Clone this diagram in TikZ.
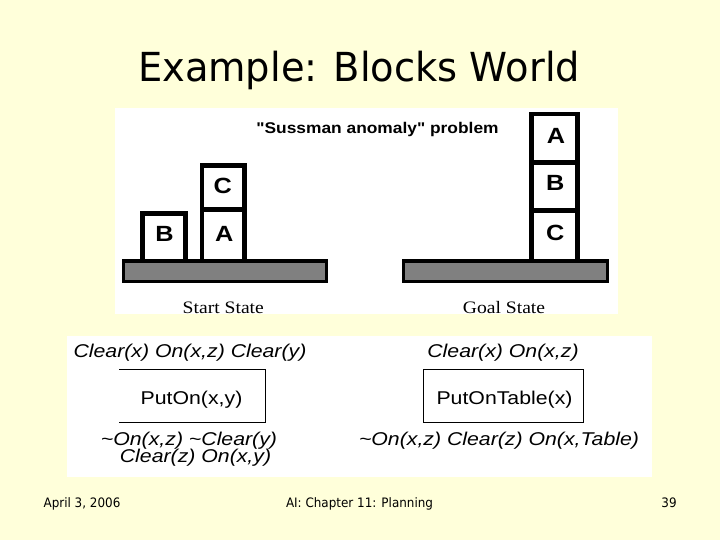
\documentclass[tikz,border=0pt]{standalone}
\usepackage{fontspec}
\setmainfont{Liberation Sans}
\newfontfamily\titlef[FakeStretch=0.96]{DejaVu Sans}
\newfontfamily\footf[FakeStretch=0.92]{DejaVu Sans}
\newfontfamily\arialf[FakeStretch=1.15]{Liberation Sans}
\newfontfamily\arialb[FakeStretch=1.12]{Liberation Sans}
\newfontfamily\letterf[FakeStretch=1.15]{Liberation Sans}
\newfontfamily\timesf[FakeStretch=1.12]{Liberation Serif}
\definecolor{slidebg}{HTML}{FFFFDA}
\definecolor{tablegray}{RGB}{128,128,128}
\tikzset{
  txt/.style={inner sep=0pt, outer sep=0pt, anchor=base},
  blockbox/.style={draw=black, fill=white, line width=4.6pt},
  tablebox/.style={draw=black, fill=tablegray, line width=3.4pt},
  opbox/.style={draw=black, line width=1pt},
  letter/.style={inner sep=0pt, font=\letterf\bfseries\fontsize{22}{23}\selectfont},
  pred/.style={txt, font=\arialf\itshape\fontsize{18.5}{20}\selectfont},
  opname/.style={txt, font=\arialf\fontsize{18.5}{20}\selectfont},
  statelbl/.style={txt, font=\timesf\fontsize{17.5}{18}\selectfont},
  footer/.style={txt, font=\footf\fontsize{13}{14}\selectfont},
}
\begin{document}
\begin{tikzpicture}[x=1pt, y=-1pt]
\useasboundingbox (0,0) rectangle (720,540);
\fill[slidebg] (0,0) rectangle (720,540);
% title
\node[txt, font=\titlef\fontsize{40}{42}\selectfont] (title) at (359,82) {Example: Blocks World};
% top picture panel
\fill[white] (115,108.3) rectangle (618.3,314);
\begin{scope}
\clip (115,108.3) rectangle (618.3,314);
\node[txt, font=\arialb\bfseries\fontsize{15.5}{16}\selectfont] (title2) at (377.5,133.5) {"Sussman anomaly" problem};
% tables
\draw[tablebox] (123.4,261) rectangle (326.6,281.6);
\draw[tablebox] (403.7,261) rectangle (607.6,281.6);
% start state blocks
\draw[blockbox] (142.2,213.8) rectangle (185.5,261);
\draw[blockbox] (201.8,209.7) rectangle (244.2,261);
\draw[blockbox] (201.8,165.8) rectangle (244.2,209.7);
\node[letter] (sB) at (164.5,233.7) {B};
\node[letter] (sA) at (224.2,233.7) {A};
\node[letter] (sC) at (222.7,186.2) {C};
% goal state blocks
\draw[blockbox] (531.6,210.8) rectangle (577.6,261);
\draw[blockbox] (531.6,162.5) rectangle (577.6,210.8);
\draw[blockbox] (531.6,114.2) rectangle (577.6,162.5);
\node[letter] (gC) at (555.3,233) {C};
\node[letter] (gB) at (555.3,183) {B};
\node[letter] (gA) at (556,136.2) {A};
\node[statelbl] (start) at (223.3,313.3) {Start State};
\node[statelbl] (goal) at (504,313.3) {Goal State};
\end{scope}
% bottom panel
\fill[white] (66.5,335.5) rectangle (651.7,476.7);
\node[pred] (pre1) at (190,357) {Clear(x) On(x,z) Clear(y)};
\draw[opbox] (119,369.5) -- (265,369.5) -- (265,422.5) -- (119,422.5);
\node[opname] (op1) at (191.5,404) {PutOn(x,y)};
\node[pred] (eff1a) at (189,445) {\textasciitilde On(x,z) \textasciitilde Clear(y)};
\node[pred] (eff1b) at (195.5,462.7) {Clear(z) On(x,y)};
\node[pred] (pre2) at (503,357) {Clear(x) On(x,z)};
\draw[opbox] (423,369.5) rectangle (583,422.5);
\node[opname] (op2) at (504.5,404) {PutOnTable(x)};
\node[pred] (eff2) at (499,445) {\textasciitilde On(x,z) Clear(z) On(x,Table)};
% footer
\node[footer] (date) at (82,507.5) {April 3, 2006};
\node[footer] (chap) at (359.5,507.5) {AI: Chapter 11: Planning};
\node[footer] (page) at (669,507.5) {39};
\end{tikzpicture}
\end{document}
